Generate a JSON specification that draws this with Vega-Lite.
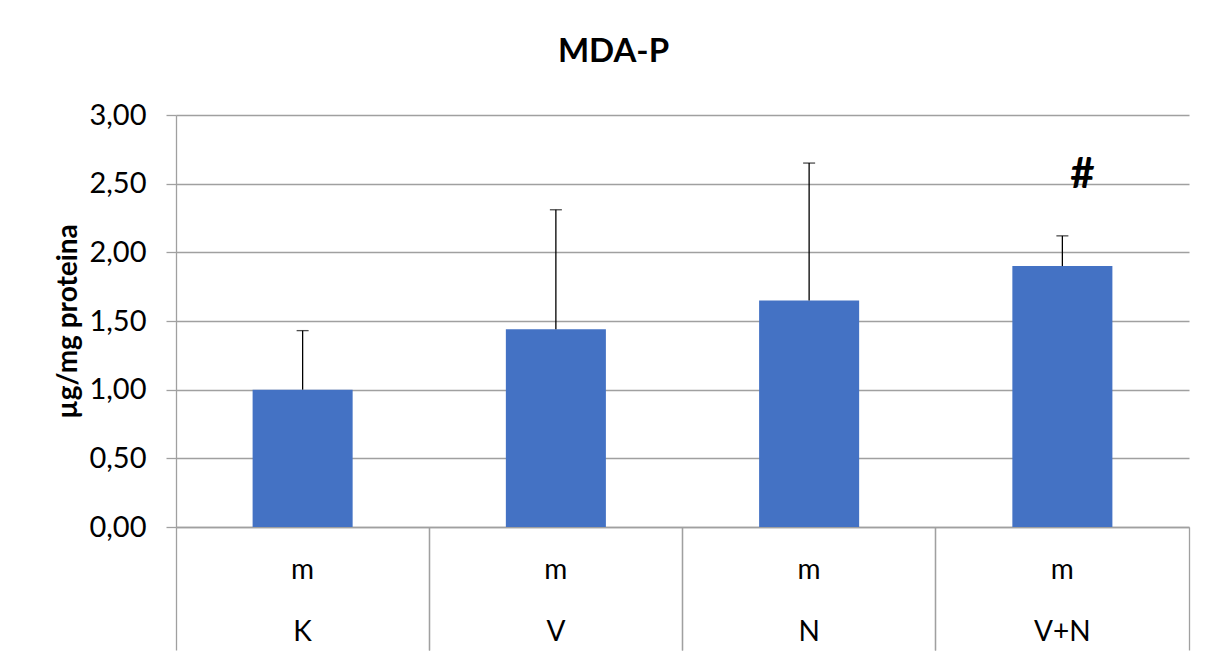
{
  "$schema": "https://vega.github.io/schema/vega-lite/v6.json",
  "width": 1013,
  "height": 412,
  "autosize": {"type": "none"},
  "padding": {"left": 176, "top": 115, "right": 18, "bottom": 130},
  "background": "white",
  "title": {
    "text": "MDA-P",
    "font": "Lato",
    "fontSize": 33,
    "fontWeight": "bold",
    "color": "#000000",
    "anchor": "middle",
    "offset": 12,
    "dx": -69
  },
  "data": {
    "values": [
      {"group": "K", "mean": 1.00, "upper": 1.43, "sig": ""},
      {"group": "V", "mean": 1.44, "upper": 2.31, "sig": ""},
      {"group": "N", "mean": 1.65, "upper": 2.65, "sig": ""},
      {"group": "V+N", "mean": 1.90, "upper": 2.12, "sig": "#"}
    ]
  },
  "layer": [
    {
      "mark": {"type": "bar", "color": "#4472C4", "width": {"band": 0.395}},
      "encoding": {
        "x": {
          "field": "group",
          "type": "nominal",
          "sort": ["K", "V", "N", "V+N"],
          "scale": {"paddingInner": 0, "paddingOuter": 0},
          "axis": {
            "orient": "bottom",
            "title": null,
            "bandPosition": 0,
            "labelAngle": 0,
            "labelExpr": "['m', datum.label]",
            "labelLineHeight": 62,
            "labelBaseline": "top",
            "labelPadding": -94,
            "labelFont": "Lato",
            "labelFontSize": 28,
            "labelColor": "#000000",
            "tickSize": 123,
            "tickColor": "#a0a0a0",
            "tickWidth": 1.3,
            "domainColor": "#a0a0a0",
            "domainWidth": 1.3,
            "grid": false
          }
        },
        "y": {
          "field": "mean",
          "type": "quantitative",
          "scale": {"domain": [0, 3], "nice": false},
          "axis": {
            "title": "µg/mg proteina",
            "titleFont": "Lato",
            "titleFontSize": 28,
            "titleFontWeight": "bold",
            "titleColor": "#000000",
            "titlePadding": 6,
            "values": [0, 0.5, 1, 1.5, 2, 2.5, 3],
            "labelExpr": "replace(format(datum.value, '.2f'), '.', ',')",
            "labelFont": "Lato",
            "labelFontSize": 29,
            "labelColor": "#000000",
            "labelPadding": 20,
            "tickSize": 10,
            "tickColor": "#a0a0a0",
            "tickWidth": 1.3,
            "domainColor": "#a0a0a0",
            "domainWidth": 1.3,
            "gridColor": "#a0a0a0",
            "gridWidth": 1.3
          }
        }
      }
    },
    {
      "mark": {"type": "rule", "color": "#000000", "strokeWidth": 1.3},
      "encoding": {
        "x": {
          "field": "group",
          "type": "nominal",
          "sort": ["K", "V", "N", "V+N"],
          "axis": {
            "orient": "bottom",
            "title": null,
            "bandPosition": 1,
            "labels": false,
            "domain": false,
            "grid": false,
            "tickSize": 123,
            "tickColor": "#a0a0a0",
            "tickWidth": 1.3
          }
        },
        "y": {"field": "mean", "type": "quantitative"},
        "y2": {"field": "upper"}
      }
    },
    {
      "mark": {"type": "tick", "color": "#000000", "thickness": 1.3, "size": 12, "orient": "horizontal"},
      "encoding": {
        "x": {"field": "group", "type": "nominal", "sort": ["K", "V", "N", "V+N"], "axis": null},
        "y": {"field": "upper", "type": "quantitative"}
      }
    },
    {
      "mark": {"type": "text", "font": "Lato", "fontSize": 42, "fontWeight": "bold", "color": "#000000", "dy": -61, "dx": 20, "baseline": "middle"},
      "encoding": {
        "x": {"field": "group", "type": "nominal", "sort": ["K", "V", "N", "V+N"], "axis": null},
        "y": {"field": "upper", "type": "quantitative"},
        "text": {"field": "sig"}
      }
    }
  ],
  "resolve": {"axis": {"x": "independent"}},
  "config": {
    "view": {"stroke": null}
  }
}
